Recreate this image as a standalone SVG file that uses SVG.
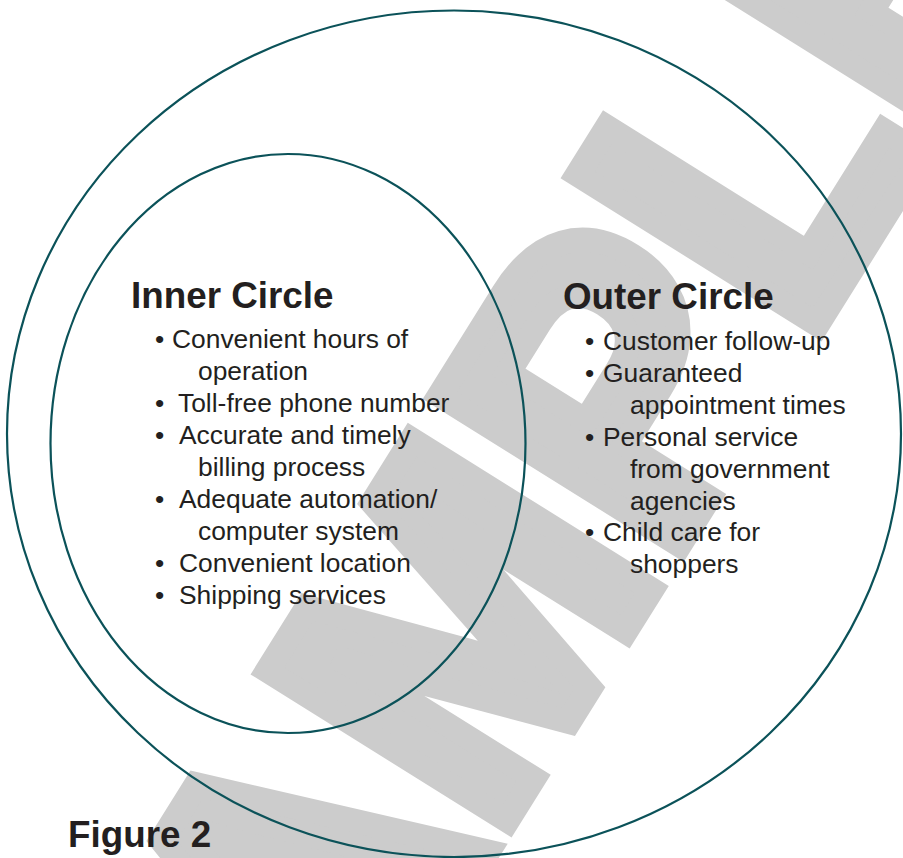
<svg xmlns="http://www.w3.org/2000/svg" width="903" height="858" viewBox="0 0 903 858">
  <style>
    .ring { fill: none; stroke: #0b5259; stroke-width: 2.2; }
    .head { font-family: "Liberation Sans", Arial, sans-serif; font-weight: bold; font-size: 36.8px; fill: #231f20; }
    .item { font-family: "Liberation Sans", Arial, sans-serif; font-size: 26.4px; fill: #231f20; }
    .mark { font-family: "Liberation Sans", Arial, sans-serif; font-weight: bold; font-size: 390px; fill: #cccccc; stroke: #cccccc; stroke-width: 24; stroke-linejoin: miter; }
  </style>
  <rect width="903" height="858" fill="#ffffff"/>

  <!-- diagonal watermark, behind everything -->
  <g id="watermark">
    <text class="mark" transform="rotate(-58) translate(-995 865) scale(1 1.053)" x="0" y="0">SAMPLE</text>
  </g>

  <g id="outer-circle">
    <ellipse class="ring" cx="454" cy="433.75" rx="447" ry="423.25"/>
  </g>

  <g id="inner-circle">
    <ellipse class="ring" cx="288" cy="443.5" rx="237.5" ry="289.5"/>
  </g>

  <g id="inner-label">
    <text class="head" x="131" y="308">Inner Circle</text>
    <text class="item" x="155" y="348">•</text>
    <text class="item" x="172" y="348">Convenient hours of</text>
    <text class="item" x="198" y="380">operation</text>
    <text class="item" x="155" y="412">•</text>
    <text class="item" x="178" y="412">Toll-free phone number</text>
    <text class="item" x="155" y="444">•</text>
    <text class="item" x="179" y="444">Accurate and timely</text>
    <text class="item" x="198" y="476">billing process</text>
    <text class="item" x="155" y="508">•</text>
    <text class="item" x="179" y="508">Adequate automation/</text>
    <text class="item" x="198" y="540">computer system</text>
    <text class="item" x="155" y="572">•</text>
    <text class="item" x="179" y="572">Convenient location</text>
    <text class="item" x="155" y="604">•</text>
    <text class="item" x="179" y="604">Shipping services</text>
  </g>

  <g id="outer-label">
    <text class="head" x="563" y="309">Outer Circle</text>
    <text class="item" x="585" y="350">•</text>
    <text class="item" x="603" y="350">Customer follow-up</text>
    <text class="item" x="585" y="382">•</text>
    <text class="item" x="603" y="382">Guaranteed</text>
    <text class="item" x="630" y="414">appointment times</text>
    <text class="item" x="585" y="446">•</text>
    <text class="item" x="603" y="446">Personal service</text>
    <text class="item" x="630" y="478">from government</text>
    <text class="item" x="630" y="510">agencies</text>
    <text class="item" x="585" y="541">•</text>
    <text class="item" x="603" y="541">Child care for</text>
    <text class="item" x="630" y="573">shoppers</text>
  </g>

  <g id="figure-caption">
    <text class="head" x="68" y="847">Figure 2</text>
  </g>

  <!-- no connectors in this figure -->
  <g id="connectors"/>
</svg>
